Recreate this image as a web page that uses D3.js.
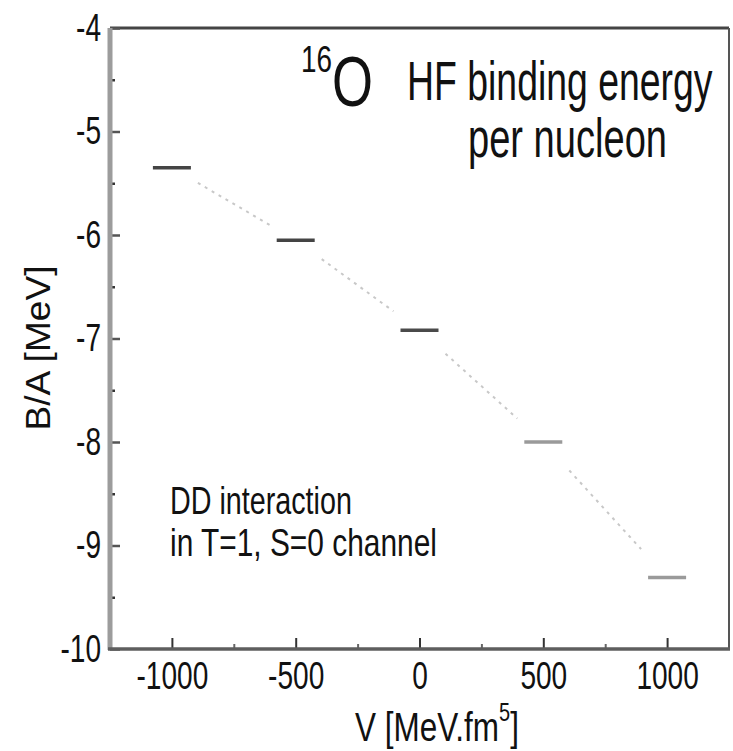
<!DOCTYPE html>
<html>
<head>
<meta charset="utf-8">
<script src="https://cdn.jsdelivr.net/npm/d3@7"></script>
<style>
  html, body { margin: 0; padding: 0; background: #fff; }
  svg { display: block; }
  text { font-family: "Liberation Sans", Arial, sans-serif; fill: #111; }
</style>
</head>
<body>
<svg id="chart" width="733" height="751"></svg>
<script>
// ---- data ----
const potentialV = [-1000, -500, 0, 500, 1000];
const bindingPerNucleon = [-5.35, -6.05, -6.92, -8.0, -9.31];
const segmentColors = ["#444", "#444", "#4a4a4a", "#9a9a9a", "#9a9a9a"];
const xTickValues = [-1000, -500, 0, 500, 1000];
const xTickLabels = ["-1000", "-500", "0", "500", "1000"];
const xMinorTicks = [-750, -250, 250, 750];
const yTickValues = [-4, -5, -6, -7, -8, -9, -10];
const yTickLabels = ["-4", "-5", "-6", "-7", "-8", "-9", "-10"];
const yMinorTicks = [-4.5, -5.5, -6.5, -7.5, -8.5, -9.5];
const xDomain = [-1250, 1250];
const yDomain = [-10, -4];

// ---- layout ----
const svg = d3.select("#chart");
const L = 110, R = 729, T = 28, B = 649;
const x = d3.scaleLinear().domain(xDomain).range([L, R]);
const y = d3.scaleLinear().domain(yDomain).range([B, T]);
const SX = 0.72;

// horizontally condense axis tick text (keeps anchor)
function condenseTick(sel, f) {
  sel.each(function () {
    const t = d3.select(this);
    const ox = +t.attr("x") || 0;
    t.attr("x", ox / f).attr("transform", `scale(${f},1)`);
  });
}

// frame
svg.append("line").attr("x1", L).attr("x2", R).attr("y1", T).attr("y2", T)
  .attr("stroke", "#444").attr("stroke-width", 3);
svg.append("line").attr("x1", R).attr("x2", R).attr("y1", T).attr("y2", B)
  .attr("stroke", "#555").attr("stroke-width", 2);

// y axis
const gy = svg.append("g").attr("transform", `translate(${L},0)`)
  .call(d3.axisLeft(y).tickValues(yTickValues).tickSize(-10).tickPadding(9)
    .tickFormat((d, i) => yTickLabels[i]));
gy.select(".domain").remove();
gy.selectAll(".tick line").attr("stroke", "#555").attr("stroke-width", 2.5);
gy.selectAll(".tick text").attr("font-size", 39).attr("fill", "#111")
  .style("font-family", '"Liberation Sans", Arial, sans-serif').call(condenseTick, SX);
const gym = svg.append("g").attr("transform", `translate(${L},0)`)
  .call(d3.axisLeft(y).tickValues(yMinorTicks).tickSize(-5).tickFormat(""));
gym.select(".domain").remove();
gym.selectAll(".tick line").attr("stroke", "#333").attr("stroke-width", 2.5);

// x axis
const gx = svg.append("g").attr("transform", `translate(0,${B})`)
  .call(d3.axisBottom(x).tickValues(xTickValues).tickSize(-11).tickPadding(12)
    .tickFormat((d, i) => xTickLabels[i]));
gx.select(".domain").remove();
gx.selectAll(".tick line").attr("stroke", "#333").attr("stroke-width", 2);
gx.selectAll(".tick text").attr("font-size", 39).attr("fill", "#111")
  .style("font-family", '"Liberation Sans", Arial, sans-serif').call(condenseTick, SX);
const gxm = svg.append("g").attr("transform", `translate(0,${B})`)
  .call(d3.axisBottom(x).tickValues(xMinorTicks).tickSize(-5).tickFormat(""));
gxm.select(".domain").remove();
gxm.selectAll(".tick line").attr("stroke", "#666").attr("stroke-width", 2);

// axis lines
svg.append("line").attr("x1", L).attr("x2", L).attr("y1", T).attr("y2", B + 1)
  .attr("stroke", "#9c9c9c").attr("stroke-width", 5);
svg.append("line").attr("x1", L - 2).attr("x2", R + 1).attr("y1", B).attr("y2", B)
  .attr("stroke", "#5e5e5e").attr("stroke-width", 3.5);

// data
const pts = potentialV.map((v, i) => ({ v, e: bindingPerNucleon[i], c: segmentColors[i] }));

// dotted connectors, trimmed near each level
const trim = 26;
const links = d3.pairs(pts).map(([a, b]) => {
  const x0 = x(a.v), y0 = y(a.e), x1 = x(b.v), y1 = y(b.e);
  const k = trim / (x1 - x0);
  return [[x0 + (x1 - x0) * k, y0 + (y1 - y0) * k], [x1 - (x1 - x0) * k, y1 - (y1 - y0) * k]];
});
svg.append("g").selectAll("path").data(links).join("path")
  .attr("d", d => d3.line()(d))
  .attr("stroke", "#c8c8c8").attr("stroke-width", 2).attr("fill", "none")
  .attr("stroke-dasharray", "3,5");

// level segments
const half = 19;
svg.append("g").selectAll("line").data(pts).join("line")
  .attr("x1", d => x(d.v) - half).attr("x2", d => x(d.v) + half)
  .attr("y1", d => y(d.e)).attr("y2", d => y(d.e))
  .attr("stroke", d => d.c).attr("stroke-width", 3.5);

// annotation text: natural text scaled horizontally to a target width
function place(t, px, py, len, rot) {
  const w = t.node().getBBox().width;
  const f = len / w;
  t.attr("transform", `translate(${px},${py})${rot ? " rotate(-90)" : ""} scale(${f},1)`);
  return t;
}
function txt(s, px, py, size, len) {
  const t = svg.append("text").attr("font-size", size).text(s);
  return place(t, px, py, len);
}

// 16O with superscript
{
  const t = svg.append("text");
  t.append("tspan").attr("font-size", 37).attr("dy", -34).text("16");
  t.append("tspan").attr("font-size", 70).attr("dy", 34).text("O");
  place(t, 301, 106, 72);
}
txt("HF binding energy", 407, 100, 55, 306);
txt("per nucleon", 468, 157, 55, 199);
txt("DD interaction", 170, 514, 39, 182);
txt("in T=1, S=0 channel", 170, 556, 39, 267);

// x axis title with superscript
{
  const t = svg.append("text");
  t.append("tspan").attr("font-size", 41).text("V [MeV.fm");
  t.append("tspan").attr("font-size", 26).attr("dy", -20).text("5");
  t.append("tspan").attr("font-size", 41).attr("dy", 20).text("]");
  place(t, 355, 741, 164);
}
// y axis title
{
  const t = svg.append("text").attr("font-size", 36).attr("text-anchor", "middle").text("B/A [MeV]");
  place(t, 50, 348, 165, true);
}
</script>
</body>
</html>
